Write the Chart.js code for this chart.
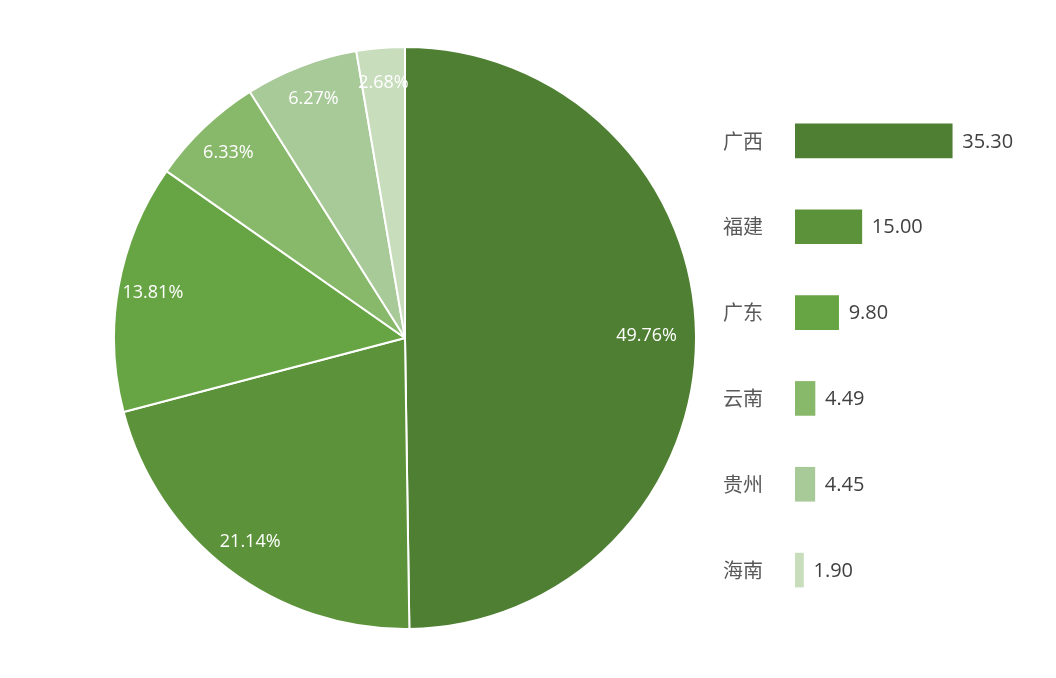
<!DOCTYPE html>
<html><head><meta charset="utf-8">
<script src="https://cdn.jsdelivr.net/npm/chart.js@4/dist/chart.umd.min.js"></script>
<style>
body{margin:0;width:1056px;height:678px;background:#fff;position:relative;overflow:hidden;font-family:"Noto Sans CJK SC",sans-serif}
#pie{position:absolute;left:113px;top:46px}
#bar{position:absolute;left:700px;top:62px}
</style></head><body>
<canvas id="pie" width="584" height="584"></canvas>
<canvas id="bar" width="356" height="587"></canvas>
<script>
const categories=["广西","福建","广东","云南","贵州","海南"];
const values=[35.30,15.00,9.80,4.49,4.45,1.90];
const colors=["#4e7f32","#5c933a","#67a544","#88b86a","#a8c998","#c8ddbc"];
const total=values.reduce((a,b)=>a+b,0);
const pieLabels={id:'pl',afterDatasetsDraw(c){const ctx=c.ctx;const m=c.getDatasetMeta(0);ctx.save();ctx.fillStyle='#fff';ctx.font='18px "Open Sans", "Noto Sans", sans-serif';ctx.textAlign='center';ctx.textBaseline='middle';
m.data.forEach((a,i)=>{const ang=(a.startAngle+a.endAngle)/2;const r=a.outerRadius*(i==0?0.83:0.88);ctx.fillText((values[i]/total*100).toFixed(2)+'%',a.x+Math.cos(ang)*r,a.y+Math.sin(ang)*r);});ctx.restore();}};
new Chart(document.getElementById('pie'),{type:'pie',data:{labels:categories,datasets:[{data:values,backgroundColor:colors,borderColor:'#fff',borderWidth:2}]},
options:{responsive:false,animation:false,layout:{padding:0},plugins:{legend:{display:false},tooltip:{enabled:false}}},plugins:[pieLabels]});
const barLabels={id:'bl',afterDatasetsDraw(c){const ctx=c.ctx;const m=c.getDatasetMeta(0);ctx.save();ctx.fillStyle='#404040';ctx.font='20px "Open Sans", "Noto Sans", sans-serif';ctx.textAlign='left';ctx.textBaseline='middle';
m.data.forEach((b,i)=>ctx.fillText(values[i].toFixed(2),b.x+10,b.y+1));ctx.restore();}};
new Chart(document.getElementById('bar'),{type:'bar',data:{labels:categories,datasets:[{data:values,backgroundColor:colors,barThickness:34,borderSkipped:false}]},
options:{indexAxis:'y',responsive:false,animation:false,layout:{padding:0},plugins:{legend:{display:false},tooltip:{enabled:false}},
scales:{x:{display:false,min:0,max:58.6},y:{grid:{display:false},border:{display:false},ticks:{color:'#595959',padding:24,font:{size:20,family:'"Noto Sans CJK SC"'}},afterFit(s){s.width=95;}}}},plugins:[barLabels]});
</script></body></html>
